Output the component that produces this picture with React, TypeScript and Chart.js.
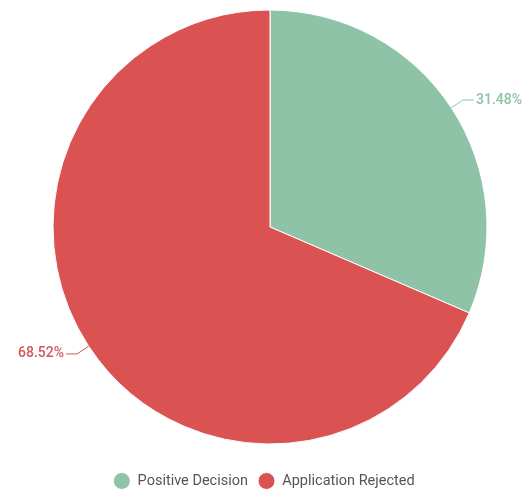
import React, { useEffect, useRef } from "react";
import { Chart, registerables } from "chart.js";

Chart.register(...registerables);

const categories = ["Positive Decision", "Application Rejected"];
const values = [31.48, 68.52];
const valueLabels = ["31.48%", "68.52%"];
const colors = ["#8FC3A8", "#DB5253"];
const labelColors = ["#8FC3A8", "#D2585B"];

const leaderPlugin = {
  id: "leaderLabels",
  afterDatasetsDraw(chart: any) {
    const ctx = chart.ctx;
    const meta = chart.getDatasetMeta(0);
    meta.data.forEach((arc: any, i: number) => {
      const { x, y, startAngle, endAngle, outerRadius } = arc.getProps(
        ["x", "y", "startAngle", "endAngle", "outerRadius"],
        true
      );
      const mid = (startAngle + endAngle) / 2;
      const cx = Math.cos(mid);
      const cy = Math.sin(mid);
      const sx = x + cx * outerRadius;
      const sy = y + cy * outerRadius;
      const ex = x + cx * (outerRadius + 14);
      const ey = y + cy * (outerRadius + 14);
      const right = cx >= 0;
      const hx = ex + (right ? 11 : -11);
      ctx.save();
      ctx.strokeStyle = colors[i];
      ctx.lineWidth = 1;
      ctx.beginPath();
      ctx.moveTo(sx, sy);
      ctx.lineTo(ex, ey);
      ctx.lineTo(hx, ey);
      ctx.stroke();
      ctx.fillStyle = labelColors[i];
      ctx.font = "500 14px Roboto";
      ctx.textBaseline = "middle";
      ctx.textAlign = right ? "left" : "right";
      ctx.fillText(valueLabels[i], hx + (right ? 2 : -2), ey);
      ctx.restore();
    });
  },
};

export default function App() {
  const ref = useRef<HTMLCanvasElement | null>(null);
  useEffect(() => {
    document.body.style.margin = "0";
    const chart = new Chart(ref.current as HTMLCanvasElement, {
      type: "pie",
      data: {
        labels: categories,
        datasets: [
          {
            data: values,
            backgroundColor: colors,
            borderColor: "#ffffff",
            borderWidth: 1,
            hoverOffset: 0,
          },
        ],
      },
      options: {
        responsive: false,
        animation: false,
        radius: 217,
        layout: { padding: { left: 4, right: 0, top: 0, bottom: -7.25 } },
        plugins: {
          tooltip: { enabled: false },
          title: {
            display: true,
            position: "left",
            text: "",
            font: { size: 1 },
            padding: 5.4,
          },
          legend: {
            position: "bottom",
            title: {
              display: true,
              text: " ",
              font: { size: 1 },
              padding: { top: 0, bottom: 8.55 },
            },
            labels: {
              usePointStyle: true,
              pointStyle: "circle",
              boxHeight: 12,
              pointStyleWidth: 17,
              padding: 10,
              color: "#555555",
              font: { family: "Roboto", size: 14.5 },
            },
          },
        },
      } as any,
      plugins: [leaderPlugin],
    });
    return () => chart.destroy();
  }, []);
  return <canvas ref={ref} width={524} height={491} style={{ display: "block" }} />;
}
